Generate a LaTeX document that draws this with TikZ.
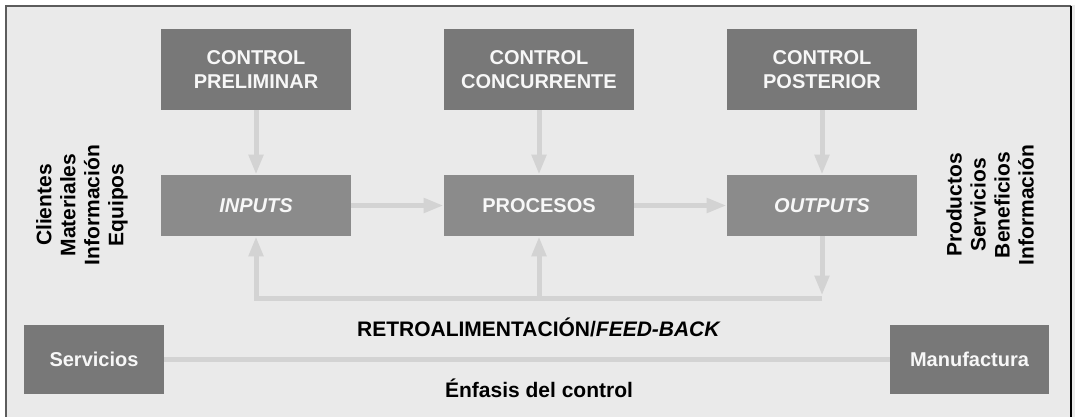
\documentclass[tikz,border=0pt]{standalone}
\usepackage{fontspec}
\setmainfont{Liberation Sans}
\usepackage{xcolor}
\usepackage{tikz}
\usetikzlibrary{arrows.meta}
\usetikzlibrary{positioning}

\definecolor{fondo}{HTML}{EAEAEA}
\definecolor{marco}{HTML}{5C5C5C}
\definecolor{cajaoscura}{HTML}{787878}
\definecolor{cajaclara}{HTML}{8B8B8B}
\definecolor{flechagris}{HTML}{D3D3D3}
\definecolor{letrablanca}{HTML}{F7F7F7}

\begin{document}
\begin{tikzpicture}[x=0.5pt, y=-0.5pt, >={Triangle[length=10pt,width=7pt]}, node distance=141.5pt]
	\tikzstyle{ctrl}=[fill=cajaoscura, text=letrablanca, minimum width=95pt, minimum height=40.5pt, inner sep=0pt, align=center, font=\fontsize{10}{12}\selectfont\bfseries]
	\tikzstyle{proc}=[ctrl, fill=cajaclara, minimum height=30.5pt]
	\tikzstyle{enf}=[ctrl, minimum height=34.5pt]
	\tikzstyle{flecha}=[draw=flechagris, line width=2.5pt]
	\tikzstyle{rotulo}=[align=center, inner sep=0pt, font=\fontsize{10.5}{12}\selectfont\bfseries]

	% fondo y marco
	\useasboundingbox (0,0) rectangle (1075,417);
	\fill[fondo] (5,5) rectangle (1075,417);
	\draw[marco, line width=1pt] (6,417) -- (6,6) -- (1071,6);
	\draw[black, line width=1pt] (1071,6) -- (1071,417);

	% controles
	\node[ctrl] (prelim) at (256,69.5) {CONTROL\\PRELIMINAR};
	\node[ctrl] (concur) [right of=prelim] {CONTROL\\CONCURRENTE};
	\node[ctrl] (poster) [right of=concur] {CONTROL\\POSTERIOR};

	% proceso
	\node[proc] (inputs) [below of=prelim, node distance=68pt] {\itshape INPUTS};
	\node[proc] (procesos) [below of=concur, node distance=68pt] {PROCESOS};
	\node[proc] (outputs) [below of=poster, node distance=68pt] {\itshape OUTPUTS};

	\node[rotulo, rotate=90] (entradas) at (82,205) {Clientes\\Materiales\\Información\\Equipos};
	\node[rotulo, rotate=90] (salidas) at (990,205) {Productos\\Servicios\\Beneficios\\Información};

	\draw[flecha,->] (prelim) -- (inputs);
	\draw[flecha,->] (concur) -- (procesos);
	\draw[flecha,->] (poster) -- (outputs);
	\draw[flecha,->] (inputs) -- (procesos);
	\draw[flecha,->] (procesos) -- (outputs);

	% retroalimentacion
	\coordinate (fb) at (0,298);
	\draw[flecha,->,shorten >=1.25pt] (outputs.south) -- (outputs.south |- fb);
	\draw[flecha,->] (outputs.south |- fb) -- (inputs.south |- fb) -- (inputs.south);
	\draw[flecha,->] (procesos.south |- fb) -- (procesos.south);
	\node[rotulo] (retro) at (539,327) {RETROALIMENTACIÓN/\textit{FEED-BACK}};

	% enfasis del control
	\node[enf, minimum width=70pt] (servicios) at (94,359.5) {Servicios};
	\node[enf, minimum width=79.5pt] (manufactura) at (969.5,359.5) {Manufactura};
	\draw[flecha] (servicios) -- (manufactura);
	\node[rotulo] (enfasis) at (539,388) {Énfasis del control};
\end{tikzpicture}
\end{document}
